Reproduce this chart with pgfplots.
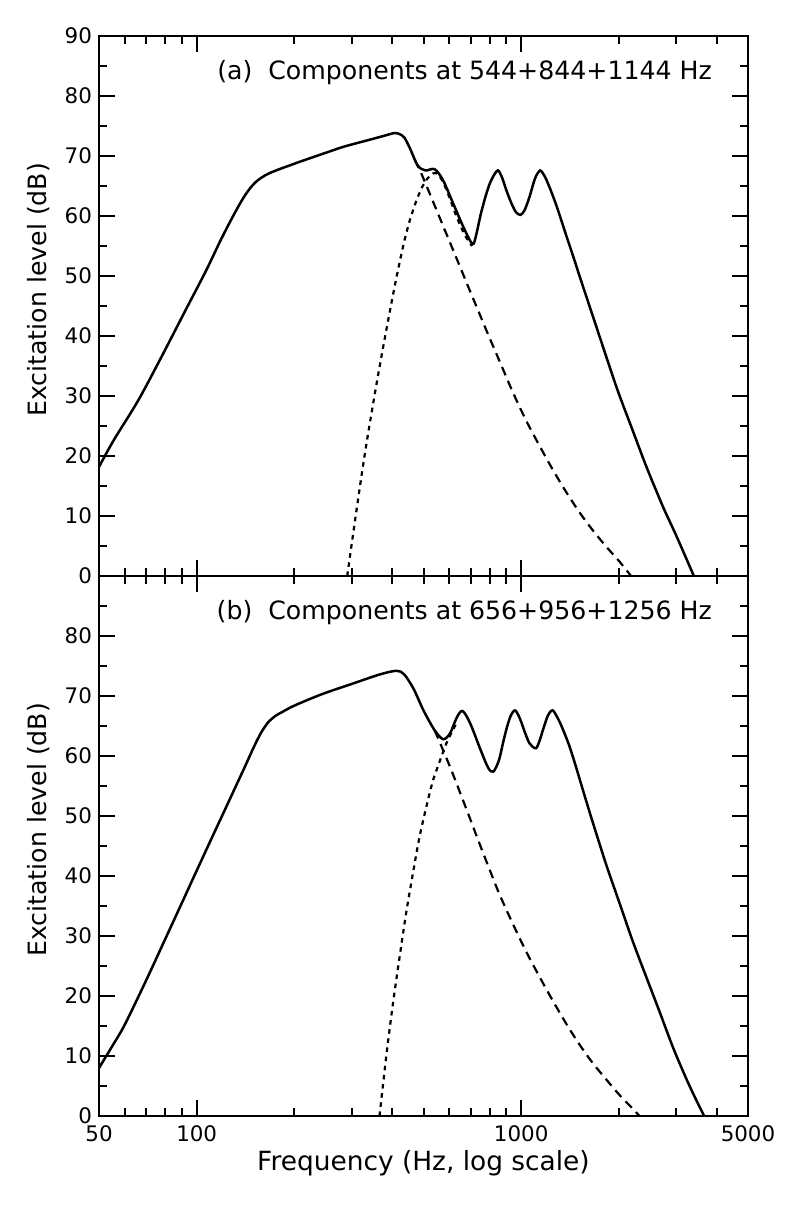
\documentclass[border=0pt]{standalone}
\usepackage{fontspec}
\setmainfont{DejaVu Sans}
\usepackage{pgfplots}
\pgfplotsset{compat=1.18}

% excitation patterns, top panel (a)
\pgfplotstableread{
f db
50 18.2
55.6 22.7
66.1 29.3
78.2 36.7
92.6 44.4
106.9 50.9
119.1 56.2
131.3 60.6
141.1 63.5
151.6 65.6
167 67.1
202 68.8
255 70.7
286 71.6
346 72.8
380 73.4
405 73.8
420 73.7
436 73.1
454 71.3
480 68.4
507 67.6
541 67.8
574 66.0
617 62.1
663 58.2
699 55.7
714 55.4
730 57.3
750 60.2
776 63.2
800 65.4
826 66.9
848 67.6
872 66.5
900 64.3
935 62.0
965 60.6
996 60.2
1025 61.0
1061 63.2
1090 65.4
1112 66.7
1144 67.6
1170 67.0
1192 66.2
1235 64.2
1279 62.0
1320 59.8
1372 57.0
1460 52.6
1513 50.0
1663 43.3
1828 36.6
1990 30.7
2208 24.2
2428 18.3
2732 11.6
2990 7.0
3222 3.0
3405 0
}\solidA
\pgfplotstableread{
f db
470 69.4
493 67.0
522 63.8
560 59.8
601 55.8
645 51.8
693 47.7
744 43.7
799 39.7
858 35.8
943 30.6
1036 25.9
1139 21.7
1252 17.7
1376 14.0
1513 10.6
1663 7.6
1828 4.9
2009 2.4
2180 0
}\dashA
\pgfplotstableread{
f db
291 0
309 10
329 20
353 30
381 40
410 49
435 55.5
455 59.5
475 62.5
495 64.8
515 66.3
535 67.1
553 67.0
575 65.6
600 63.2
631 60.0
669 56.9
705 55.0
}\dotA

% panel (b)
\pgfplotstableread{
f db
50 8.0
55 11.7
60 15.2
70 22.7
80 29.5
90 35.5
100 40.9
111 46.2
125 52.2
141 58.3
150 61.5
158 63.9
166 65.6
175 66.7
183 67.3
200 68.4
243 70.3
300 72.0
367 73.6
413 74.2
436 73.6
466 71.2
500 67.6
541 64.3
575 62.8
604 63.8
633 66.4
660 67.5
697 65.4
750 61.0
792 58.0
821 57.4
854 59.3
880 62.3
905 64.9
930 66.8
958 67.6
990 66.3
1021 64.3
1061 62.1
1110 61.3
1140 62.6
1171 64.6
1210 66.8
1251 67.6
1305 66.0
1350 64.2
1405 61.8
1460 59.0
1515 56.1
1605 51.6
1663 48.9
1828 41.9
2009 35.5
2208 29.1
2428 23.2
2669 17.4
2933 11.5
3222 6.3
3460 2.7
3665 0
}\solidB
\pgfplotstableread{
f db
541 64.3
560 62.4
590 59.5
618 56.8
647 54.0
693 49.8
744 45.4
799 41.1
858 36.9
943 32.0
1036 27.4
1139 23.2
1252 19.2
1376 15.4
1513 11.9
1663 8.8
1828 6.1
2009 3.5
2208 1.2
2316 0
}\dashB
\pgfplotstableread{
f db
366 0
384 10.0
402 18.5
422 26.5
442 33.8
464 40.5
486 46.5
510 51.5
534 55.8
560 59.0
587 62.0
609 63.8
628 65.2
}\dotB

\tikzset{
  solidc/.style={black, line width=1.25pt, smooth, tension=0.5},
  dashc/.style={black, line width=1.1pt, dash pattern=on 4.5pt off 3pt, smooth, tension=0.5},
  dotc/.style={black, line width=1.1pt, dash pattern=on 2.3pt off 2.3pt, smooth, tension=0.5},
}

\begin{document}
\begin{tikzpicture}
\begin{axis}[at={(0,270pt)},
  width=324.5pt, height=270pt, scale only axis,
  xmode=log, xmin=50, xmax=5000, ymin=0, ymax=90,
  xtick={50,100,1000,5000}, xticklabels={},
  minor xtick={60,70,80,90,200,300,400,500,600,700,800,900,2000,3000,4000},
  ytick={0,10,20,30,40,50,60,70,80,90},
  minor ytick={5,15,25,35,45,55,65,75,85},
  tick align=inside,
  major tick length=8pt, minor tick length=4pt,
  axis line style={line width=1.4pt},
  every tick/.style={line width=1pt, black},
  /pgf/number format/assume math mode=true,
  tick label style={font=\fontsize{10.7}{12}\selectfont},
  ylabel={Excitation level (dB)},
  every axis y label/.style={at={(rel axis cs:-0.0924,0.53)}, anchor=center, rotate=90,
    font=\fontsize{12.6}{14}\selectfont}]
\addplot[solidc] table[x=f, y=db] {\solidA};
\addplot[dashc] table[x=f, y=db] {\dashA};
\addplot[dotc] table[x=f, y=db] {\dotA};
\node[anchor=east, inner sep=0pt, font=\fontsize{12.6}{14}\selectfont] at (rel axis cs:0.945,0.933)
  {(a)\ \ Components at 544+844+1144 Hz};
\end{axis}

\begin{axis}[at={(0,0)},
  width=324.5pt, height=270pt, scale only axis,
  xmode=log, xmin=50, xmax=5000, ymin=0, ymax=90,
  xtick={50,100,1000,5000}, xticklabels={50,100,1000,5000},
  minor xtick={60,70,80,90,200,300,400,500,600,700,800,900,2000,3000,4000},
  ytick={0,10,20,30,40,50,60,70,80},
  minor ytick={5,15,25,35,45,55,65,75,85},
  tick align=inside,
  major tick length=8pt, minor tick length=4pt,
  axis line style={line width=1.4pt},
  every tick/.style={line width=1pt, black},
  /pgf/number format/assume math mode=true,
  tick label style={font=\fontsize{10.7}{12}\selectfont},
  xticklabel style={yshift=-1.5pt},
  ylabel={Excitation level (dB)},
  every axis y label/.style={at={(rel axis cs:-0.0924,0.53)}, anchor=center, rotate=90,
    font=\fontsize{12.6}{14}\selectfont},
  xlabel={Frequency (Hz, log scale)},
  every axis x label/.style={at={(rel axis cs:0.5,-0.087)}, anchor=center,
    font=\fontsize{13.2}{15}\selectfont}]
\addplot[solidc] table[x=f, y=db] {\solidB};
\addplot[dashc] table[x=f, y=db] {\dashB};
\addplot[dotc] table[x=f, y=db] {\dotB};
\node[anchor=east, inner sep=0pt, font=\fontsize{12.6}{14}\selectfont] at (rel axis cs:0.945,0.933)
  {(b)\ \ Components at 656+956+1256 Hz};
\end{axis}

\path (-49.5pt,-45pt) rectangle (350.5pt,558pt);
\end{tikzpicture}
\end{document}
